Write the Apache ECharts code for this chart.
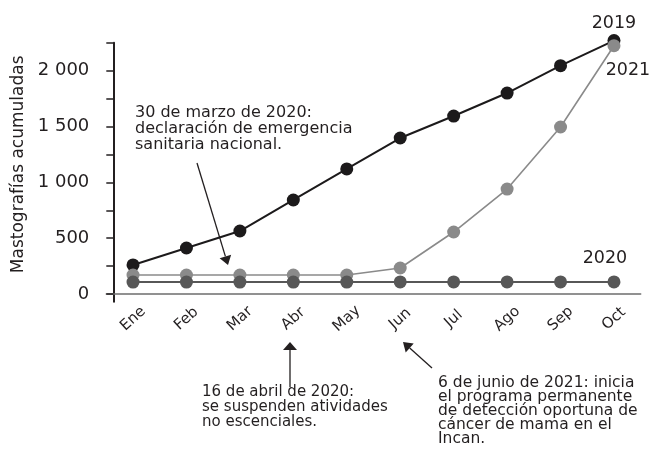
<!DOCTYPE html>
<html>
<head>
<meta charset="utf-8">
<script src="https://cdn.jsdelivr.net/npm/echarts@6/dist/echarts.min.js"></script>
<style>html,body{margin:0;padding:0;background:#fff}#c{width:651px;height:449px}</style>
</head>
<body>
<div id="c"></div>
<script>
const months = ['Ene','Feb','Mar','Abr','May','Jun','Jul','Ago','Sep','Oct'];
const y2019 = [260, 412, 564, 842, 1120, 1397, 1594, 1800, 2045, 2270];
const y2021 = [170, 170, 170, 170, 170, 233, 555, 940, 1496, 2224];
const y2020 = [107, 107, 107, 107, 107, 108, 108, 108, 108, 108];
const yTicks = [0, 250, 500, 750, 1000, 1250, 1500, 1750, 2000, 2250];
const yLabels = [0, 500, 1000, 1500, 2000];
const seriesNames = ['2019', '2021', '2020'];

const FONT = '"DejaVu Sans", sans-serif';
const TXT = '#231f20';

function fmt(v){ return String(v).replace(/\B(?=(\d{3})+(?!\d))/g, ' '); }

function withEndLabel(arr, name, lab){
  return arr.map((v, i) => i === arr.length - 1
    ? {value: v, label: Object.assign({show: true, formatter: name, fontSize: 17.5, fontFamily: FONT, color: TXT}, lab)}
    : v);
}

function arrow(x1, y1, x2, y2, len, hw){
  const dx = x2 - x1, dy = y2 - y1, L = Math.hypot(dx, dy);
  const ux = dx / L, uy = dy / L, px = -uy, py = ux;
  const bx = x2 - ux * len, by = y2 - uy * len;
  return [
    {type: 'line', shape: {x1: x1, y1: y1, x2: bx, y2: by}, style: {stroke: TXT, lineWidth: 1.3}},
    {type: 'polygon', shape: {points: [[x2, y2], [bx + px * hw, by + py * hw], [bx - px * hw, by - py * hw]]}, style: {fill: TXT}}
  ];
}

const chart = echarts.init(document.getElementById('c'));
chart.setOption({
  animation: false,
  backgroundColor: '#fff',
  grid: {left: 106.3, right: 10.3, top: 42.8, bottom: 147.2, containLabel: false},
  xAxis: {
    type: 'category',
    data: months,
    boundaryGap: true,
    axisLine: {onZero: true, lineStyle: {color: '#6d6d6d', width: 1.5}},
    axisTick: {show: false},
    axisLabel: {interval: 0, rotate: 42, align: 'center', verticalAlign: 'middle', margin: 17, fontSize: 15, fontFamily: FONT, color: TXT}
  },
  yAxis: {
    type: 'value',
    min: -70, max: 2250,
    offset: -7,
    name: 'Mastografías acumuladas',
    nameLocation: 'middle',
    nameGap: 72,
    nameRotate: 90,
    nameTextStyle: {fontSize: 17, fontFamily: FONT, color: TXT, padding: [0, 0, 0, 16]},
    axisLine: {show: true, lineStyle: {color: TXT, width: 2}},
    axisTick: {show: true, length: 7, lineStyle: {color: TXT, width: 1.5}, customValues: yTicks},
    axisLabel: {margin: 24, fontSize: 18, fontFamily: FONT, color: TXT, customValues: yLabels, formatter: fmt},
    splitLine: {show: false}
  },
  series: [
    {
      name: seriesNames[0], type: 'line', clip: false, data: withEndLabel(y2019, seriesNames[0], {position: 'top', distance: 2}),
      symbol: 'circle', symbolSize: 13,
      lineStyle: {color: '#1c1a1b', width: 2}, itemStyle: {color: '#1c1a1b'}, z: 2
    },
    {
      name: seriesNames[1], type: 'line', clip: false, data: withEndLabel(y2021, seriesNames[1], {position: 'bottom', distance: 9, offset: [14, 0]}),
      symbol: 'circle', symbolSize: 13,
      lineStyle: {color: '#8a8a8a', width: 1.6}, itemStyle: {color: '#8a8a8a'}, z: 3
    },
    {
      name: seriesNames[2], type: 'line', clip: false, data: withEndLabel(y2020, seriesNames[2], {position: 'top', distance: 8, offset: [-9, 0]}),
      symbol: 'circle', symbolSize: 13,
      lineStyle: {color: '#575757', width: 2}, itemStyle: {color: '#575757'}, z: 4
    }
  ],
  graphic: [
    {type: 'text', left: 135, top: 105, style: {text: '30 de marzo de 2020:\ndeclaración de emergencia\nsanitaria nacional.', fontSize: 16, fontFamily: FONT, lineHeight: 16, fill: TXT}},
    {type: 'text', left: 202, top: 385, style: {text: '16 de abril de 2020:\nse suspenden atividades\nno escenciales.', fontSize: 15, fontFamily: FONT, lineHeight: 15, fill: TXT}},
    {type: 'text', left: 438, top: 374.5, style: {text: '6 de junio de 2021: inicia\nel programa permanente\nde detección oportuna de\ncáncer de mama en el\nIncan.', fontSize: 15.5, fontFamily: FONT, lineHeight: 14.2, fill: TXT}}
  ].concat(arrow(197, 163, 228, 265, 9, 6), arrow(290, 387, 290, 342, 8, 7), arrow(432, 368, 403, 342, 9, 6))
});
</script>
</body>
</html>
